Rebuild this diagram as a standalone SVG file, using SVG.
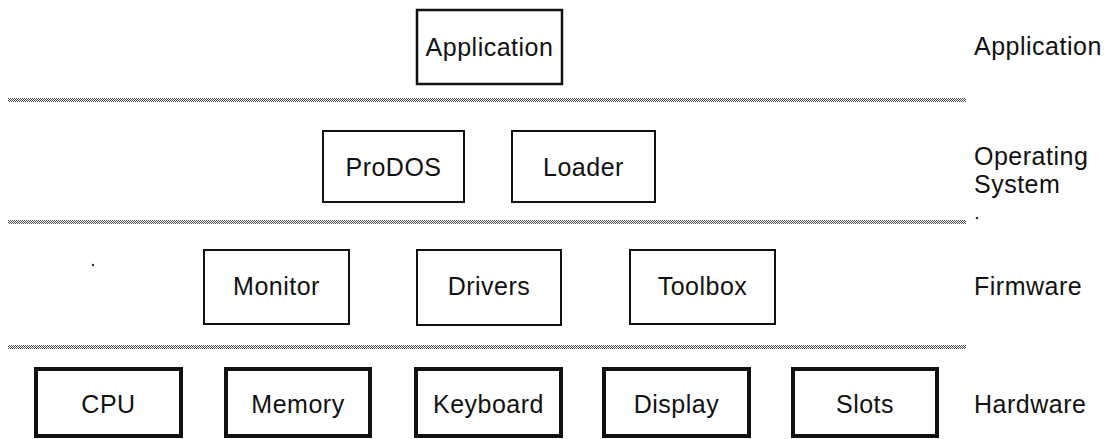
<svg xmlns="http://www.w3.org/2000/svg" width="1109" height="439" viewBox="0 0 1109 439">
  <style>
    .box { fill: #fff; stroke: #111; }
    .app { stroke-width: 2.5; }
    .os { stroke-width: 2; }
    .fw { stroke-width: 2; }
    .hw { stroke-width: 4; }
    text { font-family: "Liberation Sans", Arial, sans-serif; font-size: 25px; letter-spacing: 0.5px; fill: #111; }
    .lbl { text-anchor: middle; }
    .sep { fill: url(#dither); }
  </style>
  <defs>
    <!-- dithered grey rule between layers -->
    <pattern id="dither" width="2" height="2" patternUnits="userSpaceOnUse">
      <rect x="0" y="0" width="1" height="1" fill="#4a4a4a"/>
      <rect x="1" y="1" width="1" height="1" fill="#4a4a4a"/>
    </pattern>
  </defs>
  <rect width="1109" height="439" fill="#fff"/>

  <!-- layer separators -->
  <g id="separators">
    <rect class="sep" x="8" y="98" width="958" height="4"/>
    <rect class="sep" x="8" y="220" width="958" height="4"/>
    <rect class="sep" x="8" y="345" width="958" height="4"/>
  </g>

  <!-- application layer -->
  <g id="application">
    <rect class="box app" x="417" y="10" width="145" height="74"/>
    <text class="lbl" x="489.5" y="56">Application</text>
  </g>

  <!-- operating system layer -->
  <g id="prodos">
    <rect class="box os" x="323" y="131" width="141" height="71"/>
    <text class="lbl" x="393.5" y="176">ProDOS</text>
  </g>
  <g id="loader">
    <rect class="box os" x="512" y="131" width="143" height="71"/>
    <text class="lbl" x="583.5" y="176">Loader</text>
  </g>

  <!-- firmware layer -->
  <g id="monitor">
    <rect class="box fw" x="204" y="250" width="145" height="74"/>
    <text class="lbl" x="276.5" y="295">Monitor</text>
  </g>
  <g id="drivers">
    <rect class="box fw" x="417" y="250" width="144" height="75"/>
    <text class="lbl" x="489" y="295">Drivers</text>
  </g>
  <g id="toolbox">
    <rect class="box fw" x="630" y="250" width="145" height="74"/>
    <text class="lbl" x="702.5" y="295">Toolbox</text>
  </g>

  <!-- hardware layer -->
  <g id="cpu">
    <rect class="box hw" x="36" y="369" width="145" height="67"/>
    <text class="lbl" x="108.5" y="413">CPU</text>
  </g>
  <g id="memory">
    <rect class="box hw" x="226" y="369" width="144" height="67"/>
    <text class="lbl" x="298" y="413">Memory</text>
  </g>
  <g id="keyboard">
    <rect class="box hw" x="416" y="369" width="145" height="67"/>
    <text class="lbl" x="488.5" y="413">Keyboard</text>
  </g>
  <g id="display">
    <rect class="box hw" x="604" y="369" width="145" height="67"/>
    <text class="lbl" x="676.5" y="413">Display</text>
  </g>
  <g id="slots">
    <rect class="box hw" x="793" y="369" width="144" height="67"/>
    <text class="lbl" x="865" y="413">Slots</text>
  </g>

  <!-- layer names -->
  <g id="layer-names">
    <text x="974" y="55">Application</text>
    <text x="974" y="165">Operating</text>
    <text x="974" y="193">System</text>
    <text x="974" y="295">Firmware</text>
    <text x="974" y="413">Hardware</text>
  </g>

  <!-- stray specks -->
  <circle cx="93" cy="265" r="1.2" fill="#333"/>
  <circle cx="977" cy="218" r="1.3" fill="#333"/>
</svg>
